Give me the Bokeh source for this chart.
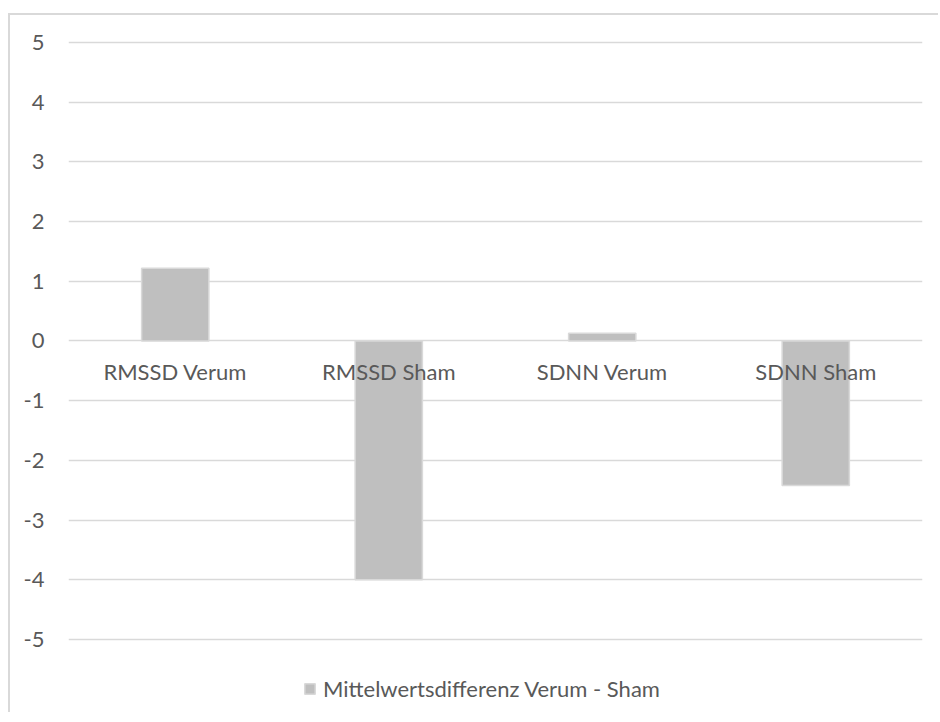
from bokeh.plotting import figure
from bokeh.models import (FactorRange, Range1d, FixedTicker, Legend, LegendItem,
                          ColumnDataSource, CustomJSTickFormatter)
from bokeh.core.properties import value
from bokeh.embed import file_html
from bokeh.resources import INLINE

categories = ["RMSSD Verum", "RMSSD Sham", "SDNN Verum", "SDNN Sham"]
values = [1.22, -4.0, 0.13, -2.42]
series_name = "Mittelwertsdifferenz Verum - Sham"
y_ticks = [-5, -4, -3, -2, -1, 0, 1, 2, 3, 4, 5]

FONT = "Lato"
TXT = "#595959"
GRID = "#d9d9d9"
FS = "22px"

src = ColumnDataSource(dict(cat=categories, val=values, zero=[0] * len(values)))

p = figure(
    x_range=FactorRange(factors=categories, range_padding=0),
    y_range=Range1d(-6.256, 5.452),
    width=930, height=699,
    output_backend="svg", toolbar_location=None,
    x_axis_location=None,
    min_border_left=58, min_border_right=18, min_border_top=0, min_border_bottom=0,
)
p.margin = (13, 0, 0, 8)
p.styles = {"border-left": "2px solid #d9d9d9", "border-top": "2px solid #d9d9d9"}
p.outline_line_color = None
p.background_fill_color = "white"
p.border_fill_color = "white"

p.xgrid.grid_line_color = None
p.ygrid.grid_line_color = GRID
p.ygrid.grid_line_width = 1.3

ax = p.yaxis[0]
ax.ticker = FixedTicker(ticks=y_ticks)
ax.formatter = CustomJSTickFormatter(code="return String(tick);")
ax.axis_line_color = None
ax.major_tick_line_color = None
ax.minor_tick_line_color = None
ax.major_tick_out = 0
ax.major_tick_in = 0
ax.major_label_standoff = 24
ax.major_label_text_font = FONT
ax.major_label_text_font_size = FS
ax.major_label_text_color = TXT

r = p.vbar(x="cat", top="val", bottom="zero", width=0.315, source=src,
           fill_color="#bfbfbf", line_color="#d9d9d9", line_width=1.5)

p.text(x="cat", y="zero", text="cat", source=src, text_font=value(FONT),
       text_font_size=FS, text_color=TXT, text_align="center",
       text_baseline="middle", y_offset=31)

legend = Legend(items=[LegendItem(label=series_name, renderers=[r])],
                location=(235, 12), orientation="horizontal",
                glyph_width=13, glyph_height=13, label_standoff=7,
                padding=0, margin=0, spacing=0,
                label_text_font=FONT, label_text_font_size=FS,
                label_text_color=TXT, border_line_color=None,
                background_fill_alpha=0)
p.add_layout(legend)

open("out.html", "w").write(file_html(p, INLINE))
